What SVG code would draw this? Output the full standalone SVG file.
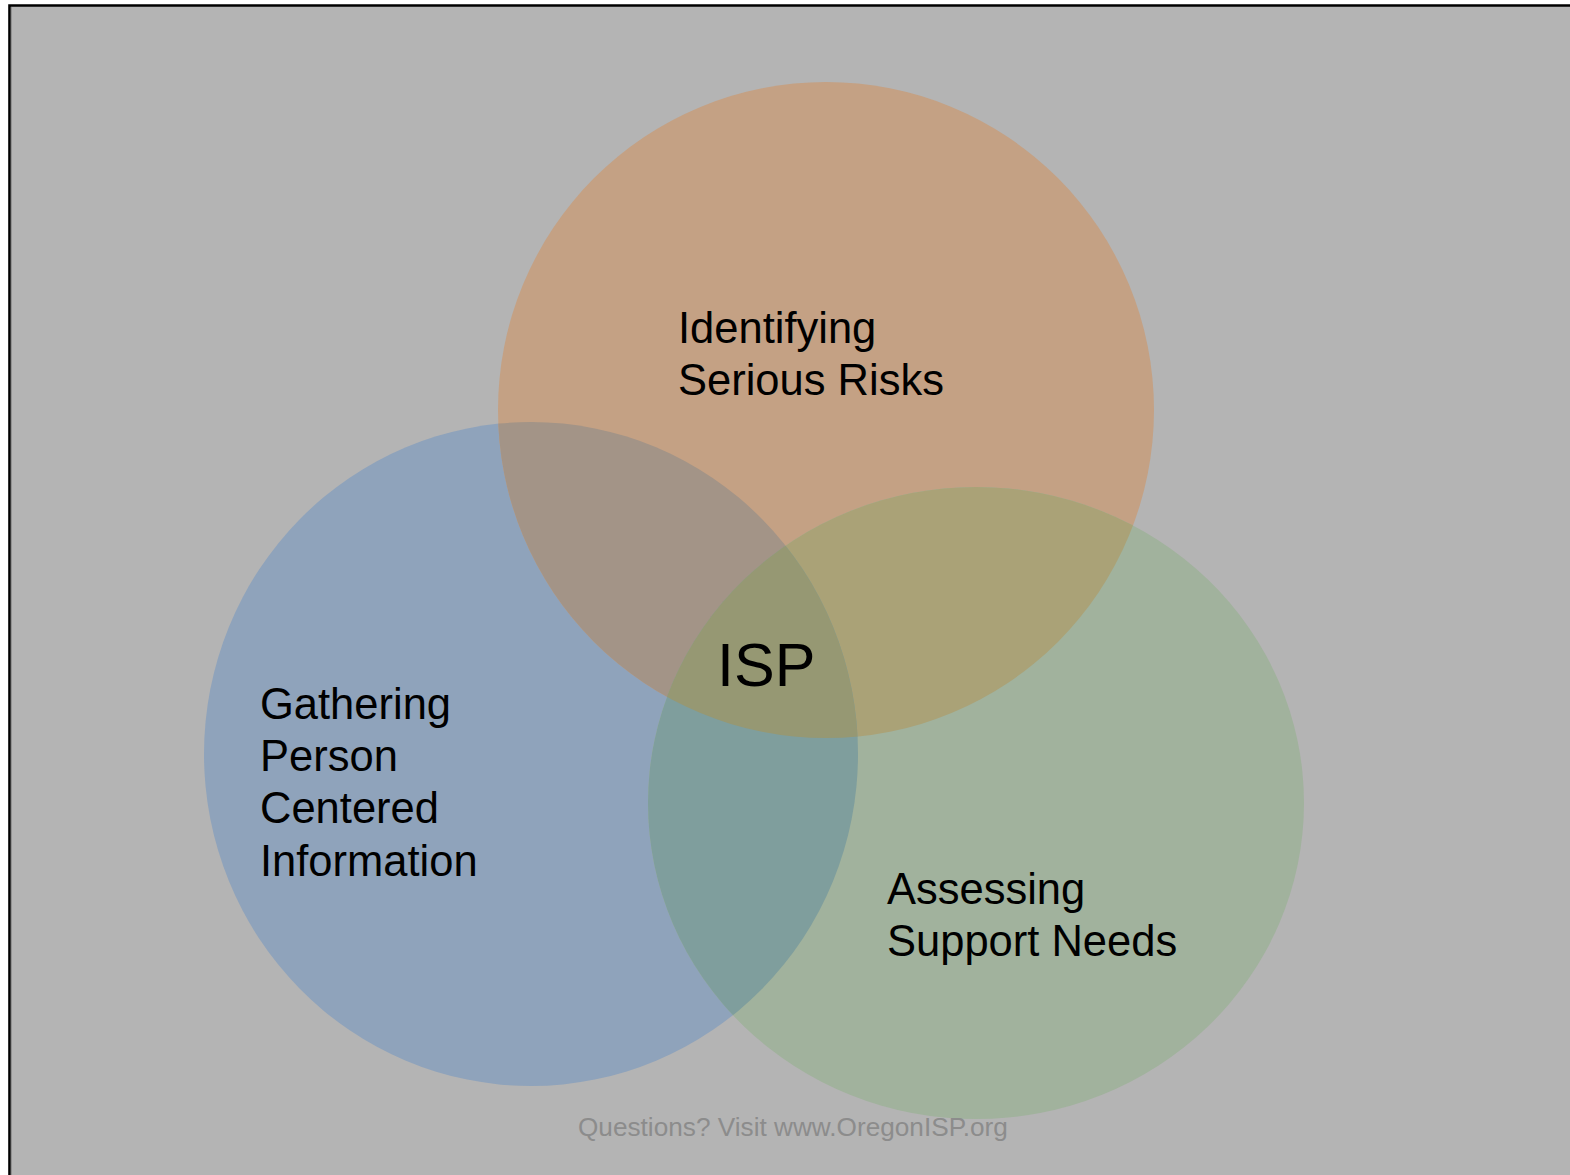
<svg xmlns="http://www.w3.org/2000/svg" width="1570" height="1175" viewBox="0 0 1570 1175">
<style>
.lbl{font-family:"Liberation Sans",Arial,sans-serif;font-size:43.5px;fill:#000}
.isp{font-family:"Liberation Sans",Arial,sans-serif;font-size:61px;fill:#000}
.foot{font-family:"Liberation Sans",Arial,sans-serif;font-size:26.2px;fill:#8c8c8c}
</style>
<defs>
<ellipse id="cO" cx="826" cy="410" rx="328" ry="328"/>
<ellipse id="cB" cx="531" cy="754" rx="327" ry="332"/>
<ellipse id="cG" cx="976" cy="803" rx="328" ry="316"/>
<clipPath id="clipO"><use href="#cO"/></clipPath>
<clipPath id="clipB"><use href="#cB"/></clipPath>
<clipPath id="clipG"><use href="#cG"/></clipPath>
</defs>
<rect x="0" y="0" width="1570" height="1175" fill="#fff"/>
<rect x="9" y="5" width="1561" height="1170" fill="#b4b4b4"/>
<path d="M9.5,1175 V5.5 H1570" fill="none" stroke="#000" stroke-width="2.6"/>
<line x1="11.3" y1="7" x2="11.3" y2="1175" stroke="#8a8a8a" stroke-width="1"/>
<g id="connectors"/>
<g id="node-blue"><use href="#cB" fill="#8fa3bb"/></g>
<g id="node-orange"><use href="#cO" fill="#c4a184"/></g>
<g id="node-green"><use href="#cG" fill="#a1b29d"/></g>
<g id="overlaps">
<use href="#cB" clip-path="url(#clipO)" fill="#a39487"/>
<use href="#cG" clip-path="url(#clipO)" fill="#aaa277"/>
<use href="#cG" clip-path="url(#clipB)" fill="#7f9e9d"/>
<g clip-path="url(#clipB)"><use href="#cO" clip-path="url(#clipG)" fill="#969873"/></g>
</g>
<g id="label-risks"><text class="lbl" x="678" y="343">Identifying</text><text class="lbl" x="678" y="395">Serious Risks</text></g>
<g id="label-isp"><text class="isp" x="717" y="686">ISP</text></g>
<g id="label-gathering"><text class="lbl" x="260" y="719">Gathering</text><text class="lbl" x="260" y="771">Person</text><text class="lbl" x="260" y="823">Centered</text><text class="lbl" x="260" y="876">Information</text></g>
<g id="label-assessing"><text class="lbl" x="887" y="904">Assessing</text><text class="lbl" x="887" y="956">Support Needs</text></g>
<g id="footer"><text class="foot" x="578" y="1136">Questions? Visit www.OregonISP.org</text></g>
</svg>
